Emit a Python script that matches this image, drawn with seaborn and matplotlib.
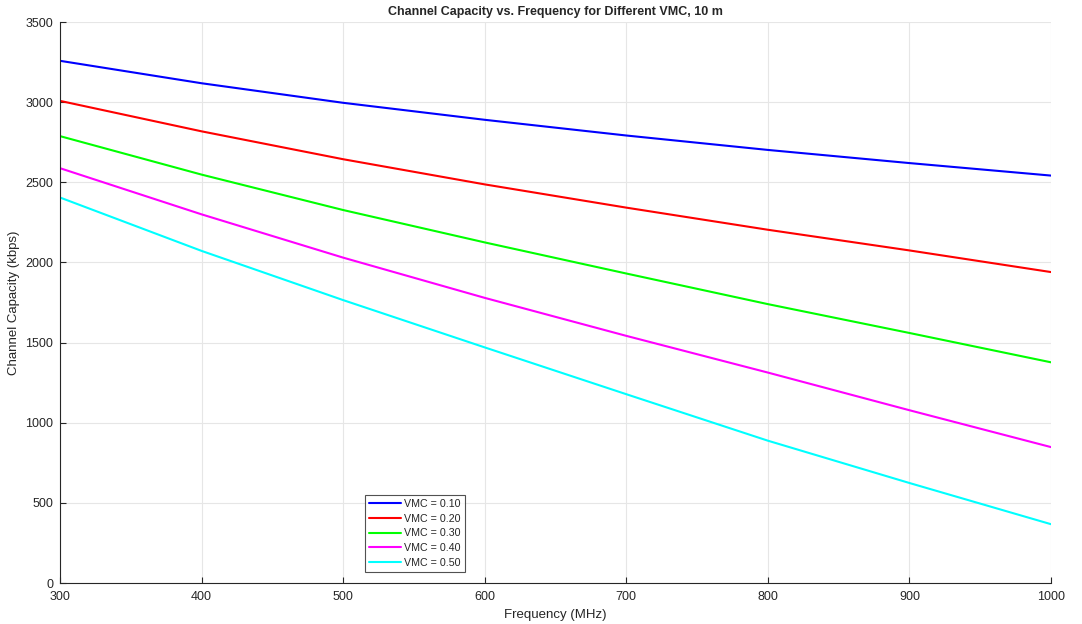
import pandas as pd
import seaborn as sns
import matplotlib.pyplot as plt

freq = [300, 400, 500, 600, 700, 800, 900, 1000]
vmc_010 = [3258, 3118, 2996, 2890, 2792, 2702, 2620, 2542]
vmc_020 = [3008, 2818, 2644, 2487, 2342, 2204, 2075, 1940]
vmc_030 = [2788, 2548, 2327, 2125, 1931, 1740, 1560, 1377]
vmc_040 = [2588, 2300, 2030, 1779, 1542, 1313, 1078, 848]
vmc_050 = [2405, 2072, 1765, 1470, 1178, 888, 624, 367]
labels = ["VMC = 0.10", "VMC = 0.20", "VMC = 0.30", "VMC = 0.40", "VMC = 0.50"]
colors = ["#0000ff", "#ff0000", "#00ff00", "#ff00ff", "#00ffff"]

rows = []
for lab, vals in zip(labels, [vmc_010, vmc_020, vmc_030, vmc_040, vmc_050]):
    for f, v in zip(freq, vals):
        rows.append({"freq": f, "cap": v, "VMC": lab})
df = pd.DataFrame(rows)

sns.set_style("white")
plt.rcParams['font.family'] = ['Liberation Sans', 'DejaVu Sans']

fig = plt.figure(figsize=(10.82, 6.24), dpi=100)
ax = fig.add_axes([0.0555, 0.0657, 0.9158, 0.899])

sns.lineplot(data=df, x="freq", y="cap", hue="VMC", palette=colors,
             linewidth=1.5, ax=ax)

ax.set_xlim(300, 1000)
ax.set_ylim(0, 3500)
ax.set_xticks(range(300, 1001, 100))
ax.set_yticks(range(0, 3501, 500))
ax.grid(True, color="#e6e6e6", linewidth=0.8)
ax.set_axisbelow(True)
for s in ["top", "right"]:
    ax.spines[s].set_visible(False)
for s in ["left", "bottom"]:
    ax.spines[s].set_color("#262626")
    ax.spines[s].set_linewidth(0.8)
ax.tick_params(direction="in", length=4, width=0.8, colors="#262626",
               labelsize=9, labelcolor="#262626", left=True, bottom=True)
ax.tick_params(axis="x", pad=6)
ax.tick_params(axis="y", pad=5)

ax.set_xlabel("Frequency (MHz)", fontsize=9.5, color="#262626", labelpad=4)
ax.set_ylabel("Channel Capacity (kbps)", fontsize=9.5, color="#262626")
ax.set_title("Channel Capacity vs. Frequency for Different VMC, 10 m",
             fontsize=9, fontweight="bold", pad=5)

leg = ax.legend(loc="lower left", bbox_to_anchor=(0.308, 0.02), fontsize=7.7,
                frameon=True, fancybox=False, handlelength=3.0,
                borderpad=0.35, labelspacing=0.45, handletextpad=0.3,
                borderaxespad=0)
leg.get_frame().set_edgecolor("#262626")
leg.get_frame().set_linewidth(0.8)

fig.savefig("out.png", dpi=100)
